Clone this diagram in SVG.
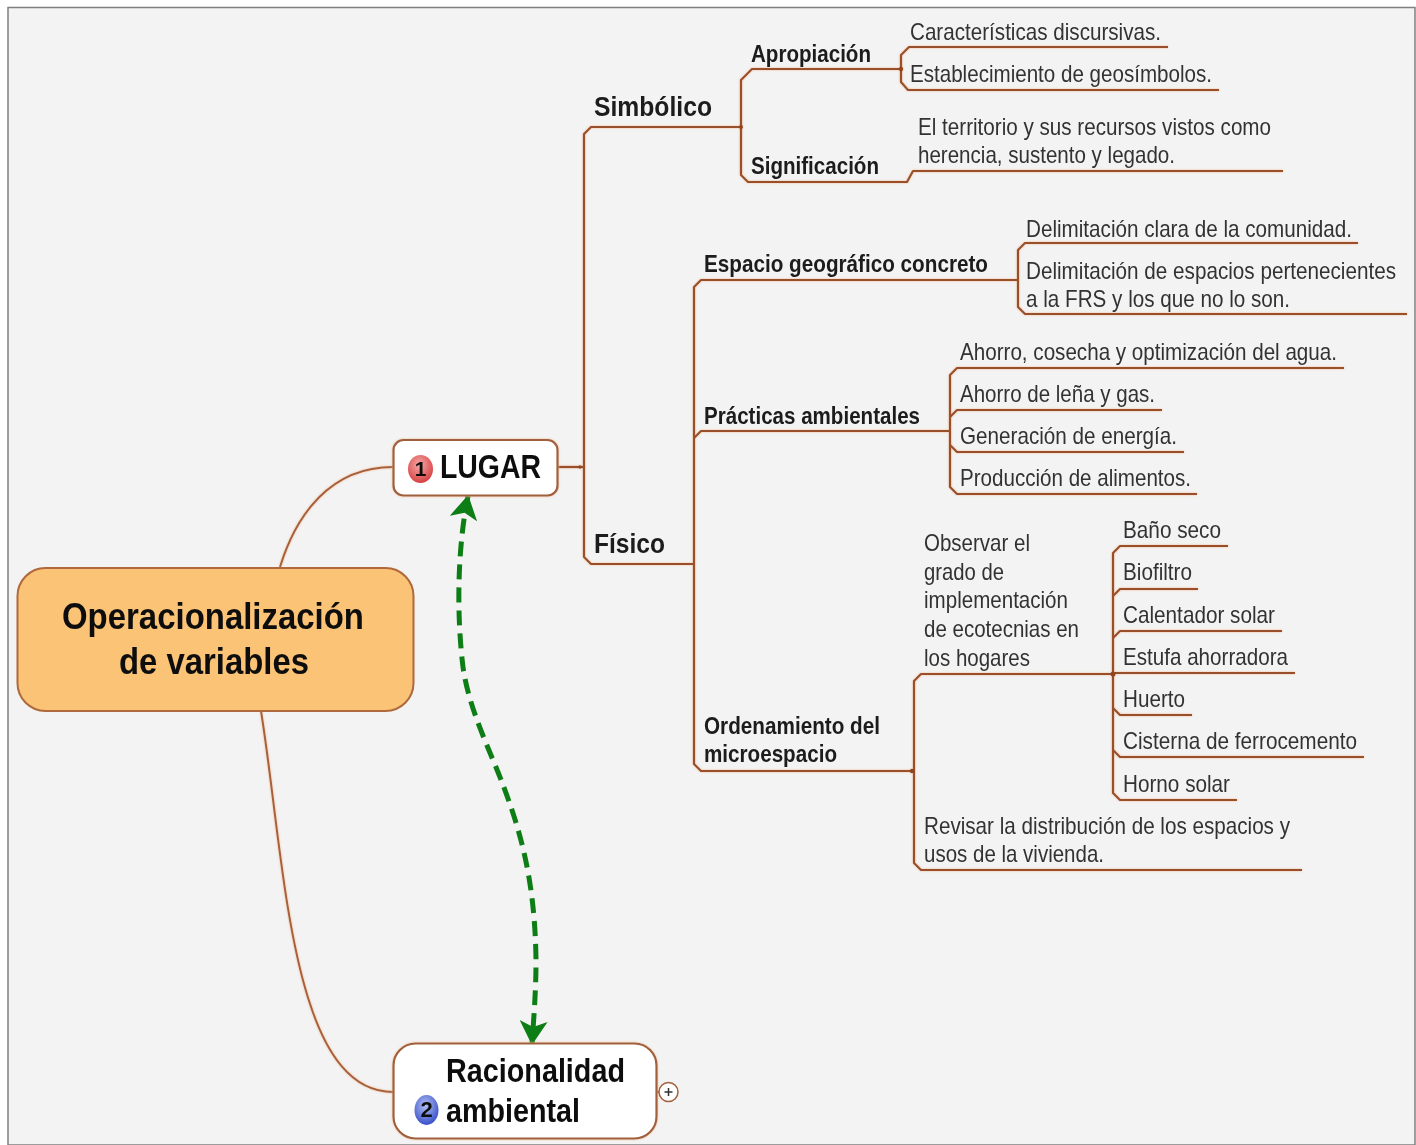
<svg xmlns="http://www.w3.org/2000/svg" width="1416" height="1145" viewBox="0 0 1416 1145">
<defs>
<style>
text{font-family:"Liberation Sans",Arial,sans-serif;fill:#333;font-size:24px;transform:translateY(-.7px)}
.b{font-weight:700;fill:#1a1a1a}
.m{font-weight:700;fill:#111}
.l{fill:none;stroke:#99502a;stroke-width:2.200;stroke-linejoin:round}
.n{stroke:#a0603c;stroke-width:2.200;fill:#fff}
.c{fill:none;stroke:#a8603a;stroke-width:2}
.d{fill:#8f4520}
</style>
<filter id="soft" x="-2%" y="-2%" width="104%" height="104%"><feGaussianBlur stdDeviation="0.55"/></filter>
<filter id="halo" filterUnits="userSpaceOnUse" x="0" y="0" width="1416" height="1145"><feGaussianBlur in="SourceAlpha" stdDeviation="1.300" result="a"/><feFlood flood-color="#f0b58e" flood-opacity="0.9"/><feComposite in2="a" operator="in" result="h"/><feMerge><feMergeNode in="h"/><feMergeNode in="SourceGraphic"/></feMerge></filter>
<radialGradient id="red" cx="45%" cy="35%" r="70%"><stop offset="0" stop-color="#f6a8a8"/><stop offset="1" stop-color="#d43a3a"/></radialGradient>
<radialGradient id="blue" cx="45%" cy="35%" r="70%"><stop offset="0" stop-color="#b3c0f2"/><stop offset="1" stop-color="#3048c8"/></radialGradient>
<marker id="ah" viewBox="0 0 24 28" refX="23" refY="14" markerWidth="24" markerHeight="28" markerUnits="userSpaceOnUse" orient="auto-start-reverse"><path d="M24 14L0 0L6 14L0 28Z" fill="#0f7d14"/></marker>
</defs>
<g filter="url(#soft)">
<rect x="0" y="0" width="1416" height="1145" fill="#fff"/>
<path d="M8 1145V7.500H1415V1145Z" fill="#f3f3f3" stroke="#808080" stroke-width="1.500"/>
<g id="connectors">
<g filter="url(#halo)">
<path class="c" d="M280 567C296 515 330 467 393 467"/>
<path class="c" d="M261 711C285 860 290 1092 393 1092"/>
<path class="l" d="M558 467H584"/>
<path class="l" d="M742 127H591L584 134V557L591 564H694"/>
<path class="l" d="M900 69H752L741 80V175L748 182H907L913 171H1283"/>
<path class="l" d="M1168 47H909L901 55V82L908 90H1219"/>
<path class="l" d="M1017 280H701L694 287V764L701 771H912"/>
<path class="l" d="M1358 243H1025L1018 250V307L1025 314H1407"/>
<path class="l" d="M694 438L701 431H950"/>
<path class="l" d="M1344 368H957L950 375V487L957 494H1197"/>
<path class="l" d="M950 417L957 410H1162"/>
<path class="l" d="M950 445L957 452H1184"/>
<path class="l" d="M1302 870H921L914 863V681L921 674H1113"/>
<path class="l" d="M1228 546H1120L1113 553V793L1120 800H1237"/>
<path class="l" d="M1113 596L1120 589H1198"/>
<path class="l" d="M1113 638L1120 631H1282"/>
<path class="l" d="M1113 673H1295"/>
<path class="l" d="M1113 708L1120 715H1192"/>
<path class="l" d="M1113 750L1120 757H1364"/>
<path class="c" d="M656 1092H659"/>
<circle class="d" cx="1113" cy="674" r="2.500"/><circle class="d" cx="912" cy="771" r="2.200"/><circle class="d" cx="901" cy="69" r="2.200"/><circle class="d" cx="741" cy="127" r="2"/><circle class="d" cx="580" cy="467" r="1.800"/>
</g>
<path fill="none" stroke="#0f7d14" stroke-width="5" stroke-dasharray="15 8" marker-start="url(#ah)" marker-end="url(#ah)" d="M468 496C458 545 456 610 463 667C469 710 490 750 503 785C520 830 535 880 536 960C536 990 534 1015 532 1044"/>
</g>
<g id="root"><rect x="17.500" y="568" width="396" height="143" rx="28" fill="#fbc374" stroke="#b0683c" stroke-width="2"/>
<text class="m" x="62" y="630" style="font-size:37px" textLength="302" lengthAdjust="spacingAndGlyphs">Operacionalización</text>
<text class="m" x="119" y="675" style="font-size:37px" textLength="190" lengthAdjust="spacingAndGlyphs">de variables</text></g>
<g id="lugar"><rect class="n" x="393.500" y="440" width="164" height="55.500" rx="10" filter="url(#halo)"/>
<ellipse cx="420.500" cy="469" rx="12.500" ry="14" fill="url(#red)"/><text class="m" x="420.500" y="477" text-anchor="middle" style="font-size:21px">1</text>
<text class="m" x="440" y="479" style="font-size:34px" textLength="101" lengthAdjust="spacingAndGlyphs">LUGAR</text></g>
<g id="racionalidad"><rect class="n" x="393.500" y="1043.500" width="263" height="95" rx="22" filter="url(#halo)"/>
<ellipse cx="426.500" cy="1110" rx="12" ry="15" fill="url(#blue)"/><text class="m" x="426.500" y="1118" text-anchor="middle" style="font-size:22px">2</text>
<text class="m" x="446" y="1083" style="font-size:34px" textLength="179" lengthAdjust="spacingAndGlyphs">Racionalidad</text>
<text class="m" x="446" y="1123" style="font-size:34px" textLength="134" lengthAdjust="spacingAndGlyphs">ambiental</text>
</g>
<g id="collapse"><circle cx="668.500" cy="1092" r="9.500" fill="#fff" stroke="#a5603c" stroke-width="1.500"/><path d="M664.500 1092H672.500M668.500 1088V1096" stroke="#333" stroke-width="1.500"/></g>
<g id="simbolico"><text class="b" x="594" y="117" style="font-size:27px" textLength="118" lengthAdjust="spacingAndGlyphs">Simbólico</text></g>
<g id="fisico"><text class="b" x="594" y="554" style="font-size:27px" textLength="71" lengthAdjust="spacingAndGlyphs">Físico</text></g>
<g id="apropiacion"><text class="b" x="751" y="63" textLength="120" lengthAdjust="spacingAndGlyphs">Apropiación</text></g>
<g id="significacion"><text class="b" x="751" y="175" textLength="128" lengthAdjust="spacingAndGlyphs">Significación</text></g>
<g id="espacio"><text class="b" x="704" y="273" textLength="284" lengthAdjust="spacingAndGlyphs">Espacio geográfico concreto</text></g>
<g id="practicas"><text class="b" x="704" y="425" textLength="216" lengthAdjust="spacingAndGlyphs">Prácticas ambientales</text></g>
<g id="ordenamiento"><text class="b" x="704" y="735" textLength="176" lengthAdjust="spacingAndGlyphs">Ordenamiento del</text><text class="b" x="704" y="763" textLength="133" lengthAdjust="spacingAndGlyphs">microespacio</text></g>
<g id="caracteristicas"><text x="910" y="41" textLength="251" lengthAdjust="spacingAndGlyphs">Características discursivas.</text></g>
<g id="geosimbolos"><text x="910" y="83" textLength="302" lengthAdjust="spacingAndGlyphs">Establecimiento de geosímbolos.</text></g>
<g id="territorio"><text x="918" y="136" textLength="353" lengthAdjust="spacingAndGlyphs">El territorio y sus recursos vistos como</text><text x="918" y="164" textLength="257" lengthAdjust="spacingAndGlyphs">herencia, sustento y legado.</text></g>
<g id="delimitacion1"><text x="1026" y="238" textLength="326" lengthAdjust="spacingAndGlyphs">Delimitación clara de la comunidad.</text></g>
<g id="delimitacion2"><text x="1026" y="280" textLength="370" lengthAdjust="spacingAndGlyphs">Delimitación de espacios pertenecientes</text><text x="1026" y="308" textLength="264" lengthAdjust="spacingAndGlyphs">a la FRS y los que no lo son.</text></g>
<g id="agua"><text x="960" y="361" textLength="377" lengthAdjust="spacingAndGlyphs">Ahorro, cosecha y optimización del agua.</text></g>
<g id="lena"><text x="960" y="403" textLength="195" lengthAdjust="spacingAndGlyphs">Ahorro de leña y gas.</text></g>
<g id="energia"><text x="960" y="445" textLength="217" lengthAdjust="spacingAndGlyphs">Generación de energía.</text></g>
<g id="alimentos"><text x="960" y="487" textLength="231" lengthAdjust="spacingAndGlyphs">Producción de alimentos.</text></g>
<g id="observar"><text x="924" y="552" textLength="106" lengthAdjust="spacingAndGlyphs">Observar el</text><text x="924" y="581" textLength="80" lengthAdjust="spacingAndGlyphs">grado de</text><text x="924" y="609" textLength="144" lengthAdjust="spacingAndGlyphs">implementación</text><text x="924" y="638" textLength="155" lengthAdjust="spacingAndGlyphs">de ecotecnias en</text><text x="924" y="667" textLength="106" lengthAdjust="spacingAndGlyphs">los hogares</text></g>
<g id="bano"><text x="1123" y="539" textLength="98" lengthAdjust="spacingAndGlyphs">Baño seco</text></g>
<g id="biofiltro"><text x="1123" y="581" textLength="69" lengthAdjust="spacingAndGlyphs">Biofiltro</text></g>
<g id="calentador"><text x="1123" y="624" textLength="152" lengthAdjust="spacingAndGlyphs">Calentador solar</text></g>
<g id="estufa"><text x="1123" y="666" textLength="165" lengthAdjust="spacingAndGlyphs">Estufa ahorradora</text></g>
<g id="huerto"><text x="1123" y="708" textLength="62" lengthAdjust="spacingAndGlyphs">Huerto</text></g>
<g id="cisterna"><text x="1123" y="750" textLength="234" lengthAdjust="spacingAndGlyphs">Cisterna de ferrocemento</text></g>
<g id="horno"><text x="1123" y="793" textLength="107" lengthAdjust="spacingAndGlyphs">Horno solar</text></g>
<g id="revisar"><text x="924" y="835" textLength="366" lengthAdjust="spacingAndGlyphs">Revisar la distribución de los espacios y</text><text x="924" y="863" textLength="180" lengthAdjust="spacingAndGlyphs">usos de la vivienda.</text></g>
</g>
</svg>
